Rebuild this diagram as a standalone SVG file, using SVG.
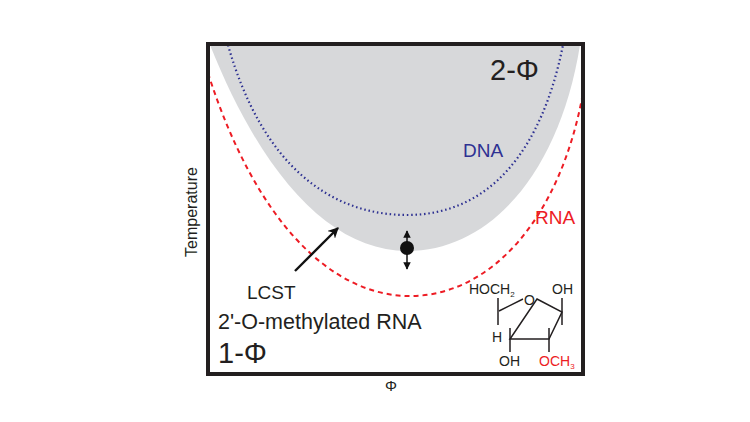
<svg xmlns="http://www.w3.org/2000/svg" width="750" height="422" viewBox="0 0 750 422">
<style>text{font-family:"Liberation Sans",Arial,sans-serif}</style>
<defs><marker id="ah" viewBox="0 0 10 10" refX="9" refY="5" markerWidth="4.5" markerHeight="4.5" orient="auto"><path d="M0,0L10,5L0,10L3,5Z" fill="#111"/></marker>
<marker id="sh" viewBox="0 0 10 10" refX="9" refY="5" markerWidth="5" markerHeight="5" orient="auto"><path d="M0,0L10,5L0,10Z" fill="#111"/></marker></defs>
<rect width="750" height="422" fill="#fff"/>
<g id="twophase"><path d="M210,45 C262,175 330,251 407,251 C492,251 560,170 580,45 Z" fill="#d7d8da"/></g>
<g id="connectors" fill="none">
<path id="dna" d="M228,45 C262,165 330,215 407,215 C490,215 542,150 563,45" stroke="#2e3192" stroke-width="2.2" stroke-dasharray="1.5 2.8"/>
<path id="rna" d="M208,73 C255,220 330,296 410,296 C490,296 560,220 583,93" stroke="#ed1c24" stroke-width="2" stroke-dasharray="5 4"/>
<line x1="295" y1="271" x2="338" y2="228" stroke="#111" stroke-width="2.4" marker-end="url(#ah)"/>
<line x1="407" y1="248" x2="407" y2="231" stroke="#111" stroke-width="1.5" marker-end="url(#sh)"/>
<line x1="407" y1="248" x2="407" y2="269" stroke="#111" stroke-width="1.5" marker-end="url(#sh)"/>
</g>
<circle cx="407" cy="248" r="7" fill="#111"/>
<rect x="208" y="44" width="375" height="330" fill="none" stroke="#231f20" stroke-width="4"/>
<text x="490" y="80" font-size="29" fill="#231f20">2-Φ</text>
<text x="463" y="157" font-size="19" fill="#2e3192">DNA</text>
<text x="535" y="224" font-size="19" fill="#ed1c24">RNA</text>
<text x="247" y="299" font-size="19" fill="#231f20">LCST</text>
<text x="218" y="329" font-size="21.5" fill="#231f20">2'-O-methylated RNA</text>
<text x="218" y="363" font-size="29" fill="#231f20">1-Φ</text>
<text transform="translate(197,212) rotate(-90)" text-anchor="middle" font-size="16" fill="#231f20">Temperature</text>
<text x="391" y="391" font-size="15" text-anchor="middle" fill="#231f20">Φ</text>
<g id="sugar" stroke="#231f20" stroke-width="1.5" fill="none">
<path d="M499,311 L523,299 M537,299 L562,312 L549,339 L510,339 Z"/>
<path d="M498,298 V325 M562,298 V325 M510,328 V352 M549,328 V352"/>
</g>
<g font-size="14" fill="#231f20">
<text x="469" y="294">HOCH<tspan font-size="8" dy="3">2</tspan></text>
<text x="524" y="305">O</text>
<text x="552" y="294">OH</text>
<text x="492" y="342">H</text>
<text x="499" y="366">OH</text>
<text x="539" y="366" fill="#ed1c24">OCH<tspan font-size="8" dy="3">3</tspan></text>
</g>
</svg>
